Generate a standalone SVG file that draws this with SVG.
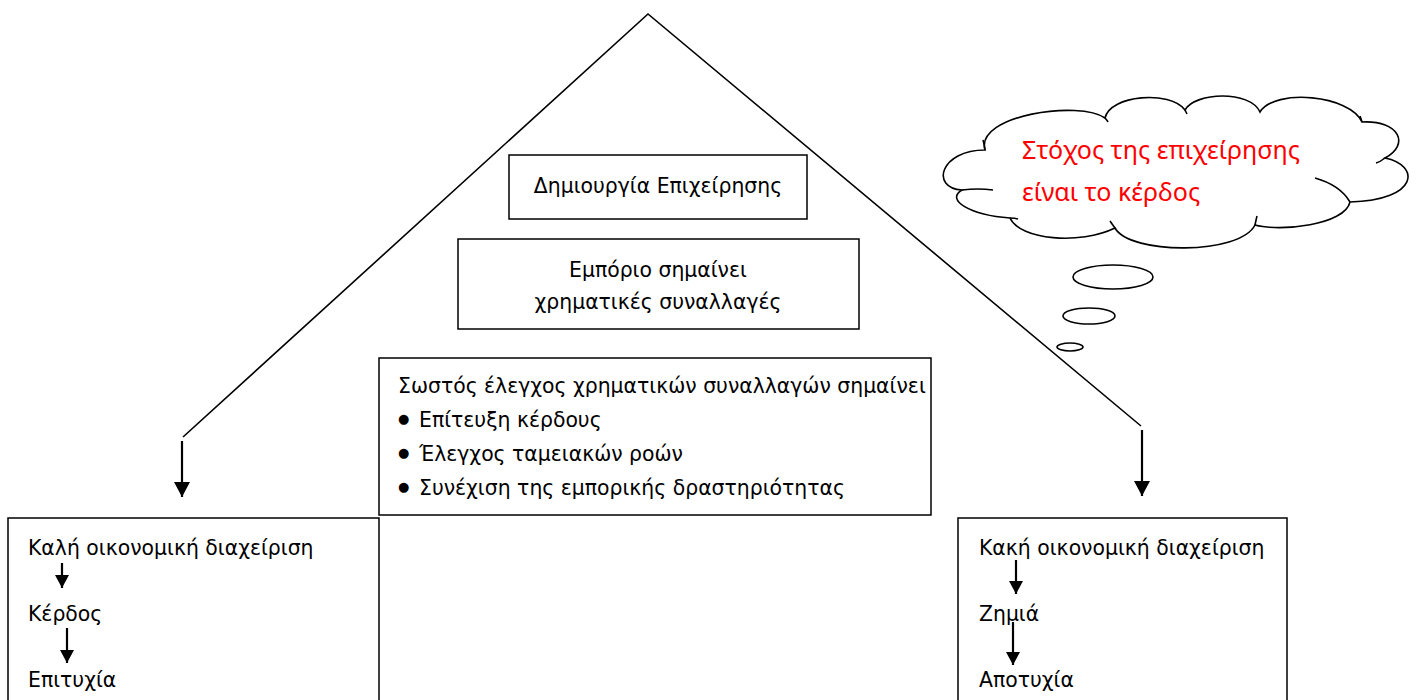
<svg xmlns="http://www.w3.org/2000/svg" width="1424" height="700" viewBox="0 0 1424 700">
<style>
.box{fill:#fff;stroke:#000;stroke-width:1.5}
.ln{fill:none;stroke:#000;stroke-width:1.6}
.ar{fill:none;stroke:#000;stroke-width:2.2}
.t{font-family:"DejaVu Sans",Verdana,sans-serif;font-size:20.4px;fill:#000}
.tc{text-anchor:middle}
.bul{font-family:"DejaVu Sans",Verdana,sans-serif;font-size:13px;fill:#000}
.red{font-family:"Noto Sans","Open Sans",sans-serif;font-size:25px;fill:#ff0000}
.cl{fill:#fff;stroke:#000;stroke-width:1.6}
</style>
<defs>
<marker id="ahL" markerWidth="16" markerHeight="16" refX="15" refY="8" orient="auto" markerUnits="userSpaceOnUse" viewBox="0 0 16 16">
<path d="M0,0 L15,8 L0,16 z" fill="#000"/>
</marker>
<marker id="ahS" markerWidth="14" markerHeight="14" refX="13" refY="7" orient="auto" markerUnits="userSpaceOnUse" viewBox="0 0 14 14">
<path d="M0,0 L13,7 L0,14 z" fill="#000"/>
</marker>
</defs>
<rect width="1424" height="700" fill="#fff"/>

<g id="node-dimiourgia">
<rect class="box" x="509" y="155" width="298" height="64"/>
<text class="t tc" x="658" y="193">Δημιουργία Επιχείρησης</text>
</g>

<g id="node-emporio">
<rect class="box" x="458" y="239" width="401" height="90"/>
<text class="t tc" x="658" y="277">Εμπόριο σημαίνει</text>
<text class="t tc" x="658" y="309">χρηματικές συναλλαγές</text>
</g>

<g id="node-sostos">
<rect class="box" x="379" y="358" width="552" height="157"/>
<text class="t" x="398" y="393">Σωστός έλεγχος χρηματικών συναλλαγών σημαίνει</text>
<text class="bul" x="398" y="423">●</text>
<text class="t" x="419" y="427">Επίτευξη κέρδους</text>
<text class="bul" x="398" y="457">●</text>
<text class="t" x="419" y="461">Έλεγχος ταμειακών ροών</text>
<text class="bul" x="398" y="491">●</text>
<text class="t" x="419" y="495">Συνέχιση της εμπορικής δραστηριότητας</text>
</g>

<g id="node-kali">
<rect class="box" x="8" y="518" width="371" height="190"/>
<text class="t" x="28" y="555">Καλή οικονομική διαχείριση</text>
<text class="t" x="28" y="621">Κέρδος</text>
<text class="t" x="28" y="687">Επιτυχία</text>
</g>

<g id="node-kaki">
<rect class="box" x="958" y="518" width="329" height="190"/>
<text class="t" x="979" y="555">Κακή οικονομική διαχείριση</text>
<text class="t" x="979" y="621">Ζημιά</text>
<text class="t" x="979" y="687">Αποτυχία</text>
</g>

<g id="node-cloud">
<path class="cl" d="M962,190 C930,188 940,150 985,150 C975,115 1080,100 1105,118 C1110,95 1170,90 1185,110 C1195,92 1250,90 1260,112 C1275,88 1350,95 1362,122 C1400,120 1410,145 1385,158 C1420,165 1420,200 1350,202 C1345,225 1280,232 1255,225 C1240,255 1130,255 1115,228 C1080,245 1020,240 1010,218 C970,215 945,200 962,190 Z"/>
<path class="ln" d="M962,190 Q978,188 993,190 M985,150 Q984,143 983,140 M1105,118 Q1107,120 1108,122 M1185,110 Q1186,112 1187,114 M1362,122 Q1361,118 1360,116 M1385,158 Q1380,162 1376,163 M1350,202 Q1340,185 1315,178 M1255,225 Q1256,220 1257,216 M1115,228 Q1112,224 1110,221 M1010,218 Q1015,218 1018,219"/>
<text class="red" x="1022" y="159">Στόχος της επιχείρησης</text>
<text class="red" x="1022" y="201">είναι το κέρδος</text>
</g>

<g id="node-bubbles">
<ellipse class="cl" cx="1113" cy="277" rx="40" ry="12"/>
<ellipse class="cl" cx="1089" cy="316" rx="26" ry="8"/>
<ellipse class="cl" cx="1070" cy="347" rx="13" ry="4"/>
</g>

<g id="connectors">
<polyline class="ln" points="183,437 648,14 1141,426"/>
<line class="ar" x1="182" y1="441" x2="182" y2="497" marker-end="url(#ahL)"/>
<line class="ar" x1="1142" y1="430" x2="1142" y2="496" marker-end="url(#ahL)"/>
<line class="ar" x1="62" y1="563" x2="62" y2="588" marker-end="url(#ahS)"/>
<line class="ar" x1="67" y1="628" x2="67" y2="663" marker-end="url(#ahS)"/>
<line class="ar" x1="1016" y1="560" x2="1016" y2="594" marker-end="url(#ahS)"/>
<line class="ar" x1="1013" y1="622" x2="1013" y2="665" marker-end="url(#ahS)"/>
</g>
</svg>
